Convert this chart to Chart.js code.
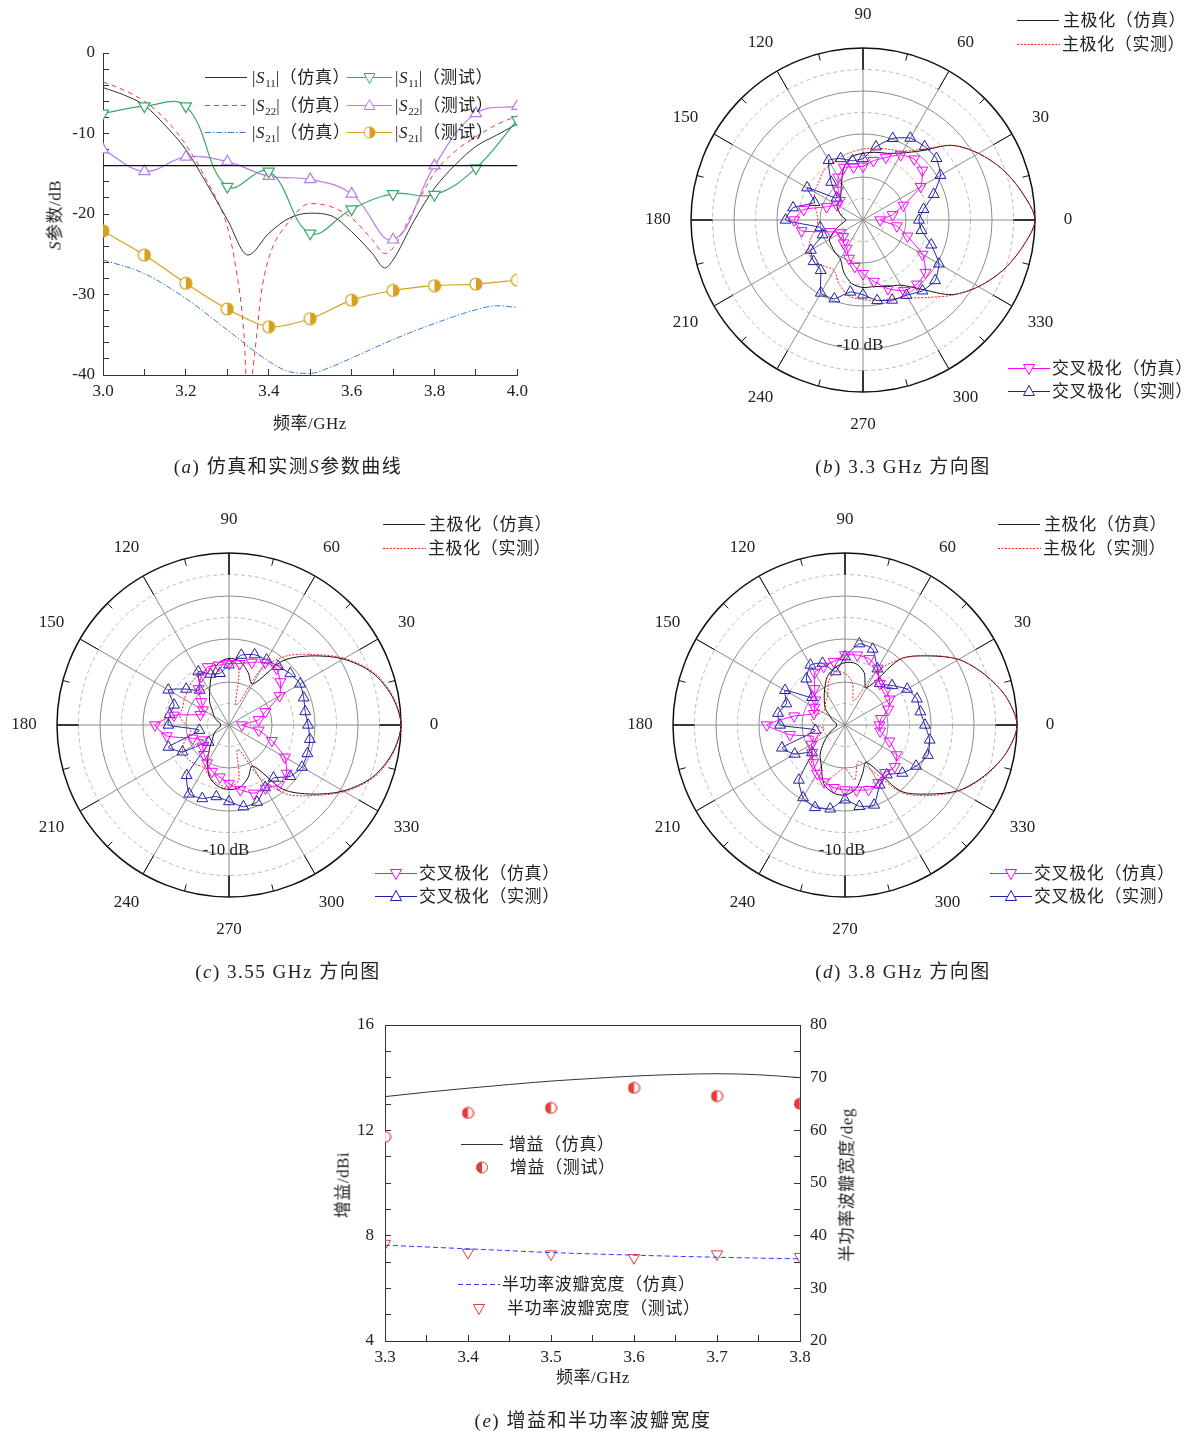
<!DOCTYPE html>
<html lang="zh-CN">
<head>
<meta charset="utf-8">
<script src="https://cdn.jsdelivr.net/npm/chart.js@4.4.0/dist/chart.umd.min.js"></script>
<style>
body { margin: 0; background: #fff; }
#page { position: relative; width: 1196px; height: 1431px; overflow: hidden;
        font-family: 'Liberation Serif', 'Noto Sans CJK SC', serif; color: #222; }
canvas { position: absolute; }
.t { position: absolute; white-space: nowrap; transform: translate(-50%, -50%); font-size: 17px; line-height: 1; letter-spacing: 0.5px; }
.rot { transform: translate(-50%, -50%) rotate(-90deg); }
.cap { font-size: 19px; letter-spacing: 1.5px; }
.lg { position: absolute; display: flex; align-items: center; white-space: nowrap; font-size: 17px;
      letter-spacing: 0.6px; line-height: 1; transform: translateY(-50%); }
.lg svg { display: block; }
sub { font-size: 11px; vertical-align: -4px; line-height: 0; letter-spacing: 0; }
</style>
</head>
<body>
<div id="page">
  <canvas id="cA" width="540" height="440" style="left:0;top:0"></canvas>
  <canvas id="cB" width="480" height="480" style="left:623px;top:-20px"></canvas>
  <canvas id="cC" width="480" height="480" style="left:-11px;top:485px"></canvas>
  <canvas id="cD" width="480" height="480" style="left:605px;top:485px"></canvas>
  <canvas id="cE" width="540" height="400" style="left:330px;top:990px"></canvas>
</div>
<script>
// ---- (a) S parameters ----
const simFreq11 = [3.00, 3.05, 3.10, 3.15, 3.20, 3.25, 3.30, 3.35, 3.40, 3.45, 3.50, 3.55, 3.60, 3.65, 3.68, 3.70, 3.75, 3.80, 3.85, 3.90, 3.95, 4.00];
const s11Sim = [-4.3, -5.2, -6.5, -9.0, -12.0, -16.2, -20.7, -25.1, -22.4, -20.5, -19.9, -20.2, -22.2, -24.9, -26.7, -25.7, -20.9, -16.8, -13.9, -11.6, -10.2, -8.8];
const simFreq22 = [3.00, 3.05, 3.10, 3.15, 3.20, 3.25, 3.30, 3.32, 3.34, 3.35, 3.36, 3.37, 3.38, 3.40, 3.45, 3.50, 3.55, 3.60, 3.65, 3.68, 3.70, 3.75, 3.80, 3.85, 3.90, 3.95, 4.00];
const s22Sim = [-3.6, -4.6, -6.0, -8.2, -11.4, -15.8, -21.6, -26.5, -34.8, -44, -40, -35.5, -30.5, -25.5, -20.9, -18.7, -19.1, -20.5, -23.2, -24.9, -24.2, -19.5, -14.9, -12.2, -10.4, -8.9, -7.8];
const simFreq21 = [3.00, 3.10, 3.20, 3.30, 3.40, 3.45, 3.50, 3.55, 3.60, 3.70, 3.80, 3.90, 3.95, 4.00];
const s21Sim = [-25.7, -27.4, -30.5, -34.4, -38.3, -39.6, -39.8, -39.0, -37.9, -35.6, -33.6, -31.9, -31.4, -31.6];
const measFreq = [3.0, 3.1, 3.2, 3.3, 3.4, 3.5, 3.6, 3.7, 3.8, 3.9, 4.0];
const s11Meas = [-7.5, -6.6, -6.6, -16.6, -14.7, -22.4, -19.4, -17.5, -17.6, -14.3, -8.3];
const s22Meas = [-12.0, -14.7, -12.9, -13.5, -15.3, -15.7, -17.5, -23.2, -14.0, -7.5, -6.6];
const s21Meas = [-22.1, -25.1, -28.6, -31.8, -34.0, -33.0, -30.7, -29.5, -28.9, -28.7, -28.2];
const refLevel = -14;

// ---- (b)(c)(d) patterns, dB at 0,10,...,350 deg ----
const angles = Array.from({length: 36}, (_, i) => i * 10);
const bMainSim = [0, -2.5, -5.5, -9, -13, -19, -22, -23.5, -24, -24.5, -25, -27, -30, -32, -33, -33, -34, -35, -36, -35, -33, -31, -30.5, -30, -29.5, -27, -25, -24.3, -24.3, -23.5, -22.5, -19, -13, -9, -5.5, -2.5];
const bMainMeas = [0, -2.5, -5.5, -9, -13, -18.5, -21.5, -22.5, -23, -23.5, -24, -24.5, -25, -25.5, -26.5, -27, -28, -29, -29.5, -29, -27, -25.5, -25, -26, -26.5, -24, -22, -21.5, -21, -20.5, -19, -16.5, -12.8, -9, -5.5, -2.5];
const bCrossSim = [-36, -33, -30, -24.5, -22, -21.5, -22.5, -24.5, -26, -27.5, -27.5, -27, -28.5, -31, -33, -33, -31, -26, -24, -25.5, -32, -34, -34, -33, -32.4, -30.5, -29, -27.5, -25.5, -23, -21, -20.5, -21, -24, -29, -32];
const bCrossMeas = [-27, -25.7, -22.5, -19.2, -17.7, -17.7, -18, -19.8, -22.7, -25.7, -26, -24.8, -24, -28.5, -32, -25, -28, -23.5, -22, -29.9, -30, -26, -25, -24.7, -20.4, -20.5, -23, -22.6, -21, -20.2, -19.8, -18.5, -18.1, -19.6, -23.1, -26.2];
const cMainSim = [0, -1.5, -4.5, -9.3, -15, -20.5, -29, -27, -25, -24.5, -25.5, -28, -31, -33, -35, -36, -37, -38, -38, -38, -37, -36, -35, -33, -30, -27, -25.5, -25, -25.3, -27, -29, -20.5, -15, -9.3, -4.5, -1.5];
const cMainMeas = [0, -1.3, -4.2, -9, -14.5, -19, -25, -35, -27, -25, -25.5, -26, -26.5, -26.7, -27.5, -28, -28.5, -28.4, -30, -31, -29, -27.5, -27.6, -28, -28.5, -27, -26, -25.5, -27, -34, -26, -19, -14.5, -9, -4.2, -1.3];
const cCrossSim = [-37, -33, -31, -26.4, -24.4, -22.8, -23.2, -24.5, -25.5, -25.7, -25.9, -25.6, -27, -29, -31.6, -33, -32.9, -27, -22.8, -25.3, -31, -33, -32, -31, -29.8, -28.5, -27.7, -26.4, -24.7, -23.1, -23, -21.9, -22.5, -25, -29.4, -33];
const cCrossMeas = [-21.6, -22, -21.5, -20.9, -21.4, -22.2, -22.5, -22.6, -23.5, -26, -27.8, -27.4, -25.7, -29.4, -27, -23.7, -26.4, -26, -25.9, -33, -25, -27.5, -33.8, -24.7, -21.5, -21.8, -23.1, -22.2, -20.7, -20.9, -23.2, -23.9, -21.4, -20.4, -20.6, -20.9];
const dMainSim = [0, -2, -5.5, -9.5, -15, -20, -30, -27, -25.5, -25.5, -26.5, -28, -30.5, -32.5, -34, -36, -37, -38, -38, -38, -37, -35.5, -33.5, -31, -29, -25.5, -24, -23.7, -25, -28, -30, -20, -15, -9.5, -5.5, -2];
const dMainMeas = [0, -2, -5.5, -9.5, -14.8, -20, -26, -34, -30, -28, -27.5, -29, -32, -33, -34, -34, -33, -32, -33, -35, -34, -32, -30, -28, -27, -26, -28.5, -30, -27, -31, -28, -19.5, -14.5, -9.3, -5.3, -2];
const dCrossSim = [-32, -31.5, -29.3, -28, -27.5, -27.4, -24.8, -23.6, -23.5, -23.7, -25, -25.5, -25.9, -29, -31, -31.8, -32.3, -28, -21.8, -27, -32.2, -31, -30, -28.5, -27, -25.9, -25.2, -24.9, -24.6, -24, -24.5, -25.5, -24.9, -26.1, -29, -31.7];
const dCrossMeas = [-21.4, -22.2, -22.2, -23.3, -25.7, -27.4, -24.9, -21.2, -20.8, -24.1, -27.4, -24.7, -23.9, -26, -30, -23.9, -25.5, -24.2, -24.9, -33, -24.4, -26.5, -30, -23.3, -20.5, -19.6, -20.2, -22.6, -20.8, -20.2, -23.9, -24.9, -22.6, -20.9, -19.5, -20];

// ---- (e) gain and half-power beamwidth ----
const gainSimFreq = [3.30, 3.35, 3.40, 3.45, 3.50, 3.55, 3.60, 3.65, 3.70, 3.75, 3.80];
const gainSim = [13.28, 13.45, 13.6, 13.74, 13.87, 13.97, 14.06, 14.12, 14.15, 14.11, 14.0];
const measFreqE = [3.3, 3.4, 3.5, 3.6, 3.7, 3.8];
const gainMeas = [11.75, 12.66, 12.85, 13.61, 13.3, 13.01];
const bwSim = [38.2, 37.5, 36.8, 36.3, 35.9, 35.6];
const bwMeas = [38.5, 36.8, 36.5, 35.8, 36.5, 36.0];

const GREEN = '#3aa86a', VIOLET = '#b47ee6', GOLD = '#d6a21e', RED = '#f03c3c', BLUE = '#3b7ddd';
const MAGENTA = '#ff00ff', NAVY = '#1f1fa6', ERED = '#e83a3a', EBLUE = '#2a3cff';
const FONT = "'Liberation Serif', 'Noto Sans CJK SC', serif";
Chart.defaults.font.family = FONT;
Chart.defaults.font.size = 17;
Chart.defaults.color = '#222';

const page = document.getElementById('page');
const xy = (xs, ys) => xs.map((x, i) => ({x: x, y: ys[i]}));

function halfDisc(color, side, size) {
    const c = document.createElement('canvas');
    c.width = c.height = size;
    const g = c.getContext('2d');
    const m = size / 2, r = size / 2 - 1;
    g.fillStyle = '#fff';
    g.beginPath(); g.arc(m, m, r, 0, Math.PI * 2); g.fill();
    g.fillStyle = color;
    g.beginPath();
    if (side === 'right') g.arc(m, m, r, -Math.PI / 2, Math.PI / 2);
    else g.arc(m, m, r, Math.PI / 2, Math.PI * 1.5);
    g.closePath(); g.fill();
    g.strokeStyle = color; g.lineWidth = 1.2;
    g.beginPath(); g.arc(m, m, r, 0, Math.PI * 2); g.stroke();
    return c;
}

// inward ticks: negative tick length, no grid in the plot area
function inAxis(extra) {
    const ax = {
        grid: {drawOnChartArea: false, tickLength: -6, color: '#333', tickWidth: 1},
        border: {color: '#333', width: 1},
        ticks: {autoSkip: false, maxRotation: 0, color: '#222', font: {size: 17}}
    };
    Object.assign(ax.ticks, extra.ticks || {});
    delete extra.ticks;
    return Object.assign(ax, extra);
}

const baseOpts = {
    responsive: false, animation: false, events: [],
    plugins: {legend: {display: false}, tooltip: {enabled: false}}
};

// ---------- (a) ----------
new Chart(document.getElementById('cA'), {
    type: 'line',
    data: {datasets: [
        {data: xy([3, 4], [refLevel, refLevel]), borderColor: '#111', borderWidth: 1.2, pointRadius: 0},
        {data: xy(measFreq, s11Meas), borderColor: GREEN, borderWidth: 1.2, tension: 0.4,
         pointStyle: 'triangle', pointRotation: 180, pointRadius: 6.5, pointBorderColor: GREEN, pointBackgroundColor: '#fff'},
        {data: xy(measFreq, s22Meas), borderColor: VIOLET, borderWidth: 1.2, tension: 0.4,
         pointStyle: 'triangle', pointRadius: 6.5, pointBorderColor: VIOLET, pointBackgroundColor: '#fff'},
        {data: xy(measFreq, s21Meas), borderColor: GOLD, borderWidth: 1.2, tension: 0.3,
         pointStyle: halfDisc(GOLD, 'right', 14)},
        {data: xy(simFreq11, s11Sim), borderColor: '#333', borderWidth: 1, pointRadius: 0, cubicInterpolationMode: 'monotone'},
        {data: xy(simFreq22, s22Sim), borderColor: RED, borderWidth: 1, borderDash: [5, 4], pointRadius: 0, cubicInterpolationMode: 'monotone'},
        {data: xy(simFreq21, s21Sim), borderColor: BLUE, borderWidth: 1, borderDash: [6, 2, 1.5, 2], pointRadius: 0, cubicInterpolationMode: 'monotone'}
    ]},
    options: Object.assign({}, baseOpts, {
        layout: {padding: {top: 53, right: 22, left: 0, bottom: 0}},
        scales: {
            x: inAxis({type: 'linear', min: 3, max: 4, afterFit: s => { s.height = 65; },
                ticks: {stepSize: 0.1, padding: 12, callback: v => { const k = Math.round(v * 10); return k % 2 === 0 ? (k / 10).toFixed(1) : ''; }}}),
            y: inAxis({min: -40, max: 0, afterFit: s => { s.width = 103; },
                ticks: {stepSize: 2, padding: 14, callback: v => { const k = Math.round(v); return k % 10 === 0 ? String(k) : ''; }}})
        }
    })
});

// ---------- polar patterns ----------
// radar runs clockwise from startAngle; reorder so angles run counter-clockwise from 0 at the right
const radarOrder = arr => [arr[0]].concat(arr.slice(1).reverse());

const polarDecor = {
    id: 'polarDecor',
    beforeDatasetsDraw(chart) {
        const s = chart.scales.r, ctx = chart.ctx;
        const n = chart.data.labels.length;
        const idx = a => ((360 - a) % 360) / (360 / n);
        ctx.save();
        ctx.strokeStyle = '#111';
        for (let a = 0; a < 360; a += 15) {
            const inner = a % 30 === 0 ? s.getDistanceFromCenterForValue(-5) : s.drawingArea - 7;
            const p1 = s.getPointPosition(idx(a), inner);
            const p2 = s.getPointPosition(idx(a), s.drawingArea);
            ctx.lineWidth = a % 90 === 0 ? 1.6 : 1;
            ctx.beginPath(); ctx.moveTo(p1.x, p1.y); ctx.lineTo(p2.x, p2.y); ctx.stroke();
        }
        ctx.fillStyle = '#222';
        ctx.font = '17px ' + FONT;
        ctx.textAlign = 'center';
        ctx.textBaseline = 'middle';
        for (let a = 0; a < 360; a += 30) {
            const p = s.getPointPosition(idx(a), s.drawingArea + 33);
            ctx.fillText(String(a), p.x, p.y);
        }
        const q = s.getPointPosition(idx(270), s.getDistanceFromCenterForValue(-10) - 3);
        ctx.fillText('-10 dB', q.x - 3, q.y);
        ctx.restore();
    }
};

function makePolar(id, mainSim, mainMeas, crossSim, crossMeas) {
    new Chart(document.getElementById(id), {
        type: 'radar',
        data: {
            labels: radarOrder(angles).map(String),
            datasets: [
                {data: radarOrder(crossSim), borderColor: MAGENTA, borderWidth: 1, tension: 0.15, fill: false,
                 pointStyle: 'triangle', pointRotation: 180, pointRadius: 6.3, pointBorderColor: MAGENTA, pointBackgroundColor: 'rgba(255,255,255,0)'},
                {data: radarOrder(crossMeas), borderColor: NAVY, borderWidth: 1, tension: 0.15, fill: false,
                 pointStyle: 'triangle', pointRadius: 6.3, pointBorderColor: NAVY, pointBackgroundColor: 'rgba(255,255,255,0)'},
                {data: radarOrder(mainMeas), borderColor: '#ff2020', borderWidth: 1, borderDash: [2, 1.5], tension: 0.3, fill: false, pointRadius: 0},
                {data: radarOrder(mainSim), borderColor: '#111', borderWidth: 1, tension: 0.3, fill: false, pointRadius: 0}
            ]
        },
        options: Object.assign({}, baseOpts, {
            layout: {padding: 68},
            scales: {r: {
                min: -40, max: 0, startAngle: 90,
                ticks: {display: false, stepSize: 5},
                pointLabels: {display: false},
                grid: {circular: true,
                       color: c => (c.tick && c.tick.value === 0) ? '#111' : (c.index % 2 ? '#b8b8b8' : '#8c8c8c'),
                       lineWidth: c => (c.tick && c.tick.value === 0) ? 1.5 : 1},
                border: {dash: c => (c.index % 2 ? [4, 3] : [])},
                angleLines: {color: '#8c8c8c', lineWidth: c => (c.index % 3 === 0 ? 1 : 0)}
            }}
        }),
        plugins: [polarDecor]
    });
}
makePolar('cB', bMainSim, bMainMeas, bCrossSim, bCrossMeas);
makePolar('cC', cMainSim, cMainMeas, cCrossSim, cCrossMeas);
makePolar('cD', dMainSim, dMainMeas, dCrossSim, dCrossMeas);

// ---------- (e) ----------
const topLine = {
    id: 'topLine',
    afterDraw(chart) {
        const a = chart.chartArea, c = chart.ctx;
        c.save(); c.strokeStyle = '#333'; c.lineWidth = 1;
        c.beginPath(); c.moveTo(a.left, a.top + 0.5); c.lineTo(a.right, a.top + 0.5); c.stroke();
        c.restore();
    }
};
new Chart(document.getElementById('cE'), {
    type: 'line',
    data: {datasets: [
        {data: xy(gainSimFreq, gainSim), yAxisID: 'y', borderColor: '#333', borderWidth: 1, pointRadius: 0, cubicInterpolationMode: 'monotone'},
        {data: xy(measFreqE, gainMeas), yAxisID: 'y', showLine: false, pointStyle: halfDisc(ERED, 'left', 13)},
        {data: xy(measFreqE, bwSim), yAxisID: 'y2', borderColor: EBLUE, borderWidth: 1, borderDash: [5, 3], pointRadius: 0, cubicInterpolationMode: 'monotone'},
        {data: xy(measFreqE, bwMeas), yAxisID: 'y2', showLine: false, pointStyle: 'triangle', pointRotation: 180,
         pointRadius: 6.5, pointBorderColor: ERED, pointBackgroundColor: 'rgba(255,255,255,0)'}
    ]},
    options: Object.assign({}, baseOpts, {
        layout: {padding: {top: 35, left: 0, right: 0, bottom: 0}},
        scales: {
            x: inAxis({type: 'linear', min: 3.3, max: 3.8, afterFit: s => { s.height = 49; },
                ticks: {stepSize: 0.05, padding: 12, callback: v => { const k = Math.round(v * 20); return k % 2 === 0 ? (k / 20).toFixed(1) : ''; }}}),
            y: inAxis({position: 'left', min: 4, max: 16, afterFit: s => { s.width = 55; },
                ticks: {stepSize: 1, padding: 17, callback: v => (Math.round(v) % 4 === 0 ? String(Math.round(v)) : '')}}),
            y2: inAxis({position: 'right', min: 20, max: 80, afterFit: s => { s.width = 70; },
                ticks: {stepSize: 5, padding: 16, callback: v => (Math.round(v) % 10 === 0 ? String(Math.round(v)) : '')}})
        }
    }),
    plugins: [topLine]
});

// ---------- text ----------
function label(x, y, html, cls) {
    const d = document.createElement('div');
    d.className = 't ' + (cls || '');
    d.style.left = x + 'px';
    d.style.top = y + 'px';
    d.innerHTML = html;
    page.appendChild(d);
}
function sample(w, s) {
    let g = '';
    if (!s.noLine) g += `<line x1="0" y1="8" x2="${w}" y2="8" stroke="${s.color}" stroke-width="1.1"${s.dash ? ` stroke-dasharray="${s.dash}"` : ''}/>`;
    const m = w / 2;
    if (s.marker === 'up') g += `<polygon points="${m},2 ${m + 5.5},12 ${m - 5.5},12" fill="#fff" stroke="${s.color}"/>`;
    if (s.marker === 'down') g += `<polygon points="${m - 5.5},4 ${m + 5.5},4 ${m},14" fill="#fff" stroke="${s.color}"/>`;
    if (s.marker === 'halfR' || s.marker === 'halfL') {
        g += `<circle cx="${m}" cy="8" r="5.5" fill="#fff" stroke="${s.color}"/>`;
        g += `<path d="M${m},2.5 A5.5,5.5 0 0 ${s.marker === 'halfR' ? 1 : 0} ${m},13.5 Z" fill="${s.color}"/>`;
    }
    return `<svg width="${w}" height="16">${g}</svg>`;
}
function legend(x, y, w, spec, html, gap) {
    const d = document.createElement('div');
    d.className = 'lg';
    d.style.left = x + 'px';
    d.style.top = y + 'px';
    d.innerHTML = sample(w, spec) + `<span style="margin-left:${gap == null ? 3 : gap}px">${html}</span>`;
    page.appendChild(d);
}

// (a)
const sp = n => `|<i>S</i><sub>${n}</sub>|`;
legend(205, 77, 42, {color: '#333'}, sp(11) + '（仿真）', 5);
legend(347, 77, 45, {color: GREEN, marker: 'down'}, sp(11) + '（测试）', 3);
legend(205, 105, 42, {color: RED, dash: '5,4'}, sp(22) + '（仿真）', 5);
legend(347, 105, 45, {color: VIOLET, marker: 'up'}, sp(22) + '（测试）', 3);
legend(205, 132, 42, {color: BLUE, dash: '6,2,1.5,2'}, sp(21) + '（仿真）', 5);
legend(347, 132, 45, {color: GOLD, marker: 'halfR'}, sp(21) + '（测试）', 3);
label(55, 215, '<i>S</i>参数/dB', 'rot');
label(310, 423, '频率/GHz');
label(288, 466, '(<i>a</i>) 仿真和实测<i>S</i>参数曲线', 'cap');

// (b)(c)(d)
function polarLegends(tx, ty, bx, by) {
    legend(tx, ty, 42, {color: '#222'}, '主极化（仿真）', 4);
    legend(tx, ty + 24, 43, {color: '#ff2020', dash: '2,1.5'}, '主极化（实测）', 2);
    legend(bx, by, 42, {color: MAGENTA, marker: 'down'}, '交叉极化（仿真）', 2);
    legend(bx, by + 23, 42, {color: NAVY, marker: 'up'}, '交叉极化（实测）', 2);
}
polarLegends(1017, 20, 1008, 368);
polarLegends(383, 524, 375, 873);
polarLegends(998, 524, 990, 873);
label(903, 466, '(<i>b</i>) 3.3 GHz 方向图', 'cap');
label(288, 971, '(<i>c</i>) 3.55 GHz 方向图', 'cap');
label(903, 971, '(<i>d</i>) 3.8 GHz 方向图', 'cap');

// (e)
legend(461, 1144, 42, {color: '#333'}, '增益（仿真）', 6);
legend(475, 1167, 14, {color: ERED, marker: 'halfL', noLine: true}, '增益（测试）', 21);
legend(458, 1284, 42, {color: EBLUE, dash: '5,3'}, '半功率波瓣宽度（仿真）', 2);
legend(472, 1308, 14, {color: ERED, marker: 'down', noLine: true}, '半功率波瓣宽度（测试）', 21);
label(343, 1185, '增益/dBi', 'rot');
label(847, 1185, '半功率波瓣宽度/deg', 'rot');
label(593, 1377, '频率/GHz');
label(593, 1420, '(<i>e</i>) 增益和半功率波瓣宽度', 'cap');
</script>
</body>
</html>
